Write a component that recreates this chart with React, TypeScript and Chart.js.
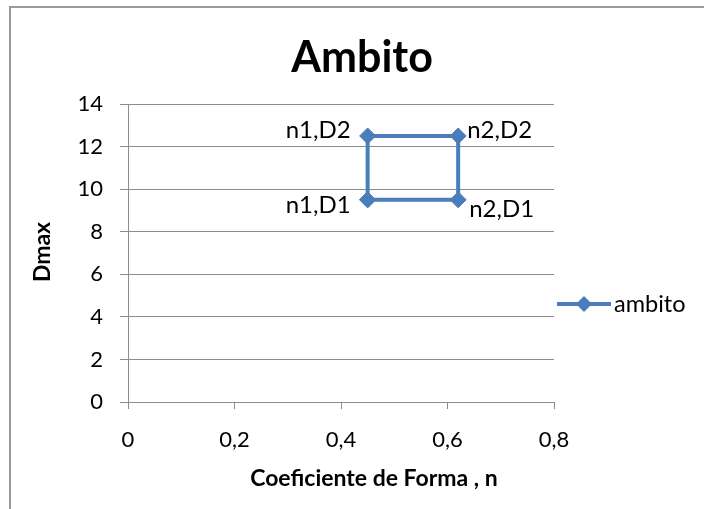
import React, { useEffect, useRef } from "react";
import { Chart, registerables } from "chart.js";

Chart.register(...registerables);

// Shape coefficient n and maximum size Dmax around the working range (closed loop)
const nValues = [0.45, 0.45, 0.62, 0.62, 0.45];
const dmaxValues = [9.5, 12.5, 12.5, 9.5, 9.5];
const pointNames = ["n1,D1", "n1,D2", "n2,D2", "n2,D1", ""];
const seriesName = "ambito";
const chartTitle = "Ambito";
const xTitle = "Coeficiente de Forma , n";
const yTitle = "Dmax";

const FONT = "Lato, 'Liberation Sans', sans-serif";
const BLUE = "#4a7ebb";
const GRID = "#8c8c8c";

// label placement around each vertex: [dx, baseline dy, align]
const labelPlacement: [number, number, CanvasTextAlign][] = [
  [-17, 13, "right"],
  [-17, 2, "right"],
  [9, 2, "left"],
  [11, 17, "left"],
  [0, 0, "left"],
];

const decorations = {
  id: "decorations",
  afterDraw(chart: any) {
    const { ctx } = chart;
    ctx.save();
    // outer frame
    ctx.fillStyle = "#9a9a9a";
    ctx.fillRect(9, 6, 704 - 9, 2);
    ctx.fillRect(9, 6, 2, 509 - 6);

    // title
    ctx.fillStyle = "#000";
    ctx.textAlign = "center";
    ctx.textBaseline = "alphabetic";
    ctx.font = `bold 43px ${FONT}`;
    ctx.fillText(chartTitle, 362, 72);

    // axis titles
    ctx.font = `bold 23px ${FONT}`;
    ctx.fillText(xTitle, 374, 486);
    ctx.save();
    ctx.translate(50, 252);
    ctx.rotate(-Math.PI / 2);
    ctx.fillText(yTitle, 0, 0);
    ctx.restore();

    // point labels
    const meta = chart.getDatasetMeta(0);
    ctx.font = `24px ${FONT}`;
    meta.data.forEach((pt: any, i: number) => {
      const text = pointNames[i];
      if (!text) return;
      const [dx, dy, align] = labelPlacement[i];
      ctx.textAlign = align;
      ctx.fillText(text, pt.x + dx, pt.y + dy);
    });

    // legend
    const ds = chart.data.datasets[0];
    const ly = 304;
    ctx.strokeStyle = ds.borderColor;
    ctx.lineWidth = ds.borderWidth;
    ctx.beginPath();
    ctx.moveTo(557, ly);
    ctx.lineTo(611, ly);
    ctx.stroke();
    ctx.fillStyle = ds.pointBackgroundColor;
    const r = 8;
    ctx.beginPath();
    ctx.moveTo(584 - r, ly);
    ctx.lineTo(584, ly - r);
    ctx.lineTo(584 + r, ly);
    ctx.lineTo(584, ly + r);
    ctx.closePath();
    ctx.fill();
    ctx.fillStyle = "#000";
    ctx.textAlign = "left";
    ctx.font = `23.5px ${FONT}`;
    ctx.fillText(seriesName, 614, ly + 8);
    ctx.restore();
  },
};

export default function App() {
  const ref = useRef<HTMLCanvasElement>(null);

  useEffect(() => {
    if (!ref.current) return;
    const chart = new Chart(ref.current, {
      type: "scatter",
      data: {
        datasets: [
          {
            label: seriesName,
            data: nValues.map((x, i) => ({ x, y: dmaxValues[i] })),
            showLine: true,
            borderColor: BLUE,
            backgroundColor: BLUE,
            borderWidth: 4,
            pointStyle: "rectRot",
            pointRadius: 8,
            pointBackgroundColor: BLUE,
            pointBorderColor: BLUE,
            pointBorderWidth: 1,
            tension: 0,
          },
        ],
      },
      options: {
        responsive: false,
        animation: false,
        devicePixelRatio: 1,
        layout: { padding: { left: 0, top: 104, right: 150, bottom: 0 } },
        plugins: {
          legend: { display: false },
          title: { display: false },
          tooltip: { enabled: false },
        },
        scales: {
          x: {
            type: "linear",
            min: 0,
            max: 0.8,
            afterFit: (s: any) => {
              s.height = 107;
            },
            ticks: {
              stepSize: 0.2,
              color: "#000",
              padding: 18,
              font: { family: FONT, size: 22 },
              callback: (v: any) => String(Math.round(Number(v) * 10) / 10).replace(".", ","),
            },
            grid: {
              drawOnChartArea: false,
              drawTicks: true,
              tickLength: 7,
              color: GRID,
            },
            border: { display: true, color: GRID, width: 1 },
          },
          y: {
            type: "linear",
            min: 0,
            max: 14,
            afterFit: (s: any) => {
              s.width = 128;
            },
            ticks: {
              stepSize: 2,
              color: "#000",
              padding: 17,
              font: { family: FONT, size: 22 },
            },
            grid: {
              drawOnChartArea: true,
              drawTicks: true,
              tickLength: 8,
              color: GRID,
            },
            border: { display: true, color: GRID, width: 1 },
          },
        },
      },
      plugins: [decorations],
    });
    return () => chart.destroy();
  }, []);

  return (
    <div style={{ position: "absolute", left: 0, top: 0, width: 704, height: 509, background: "#fff" }}>
      <canvas ref={ref} width={704} height={509} />
    </div>
  );
}
